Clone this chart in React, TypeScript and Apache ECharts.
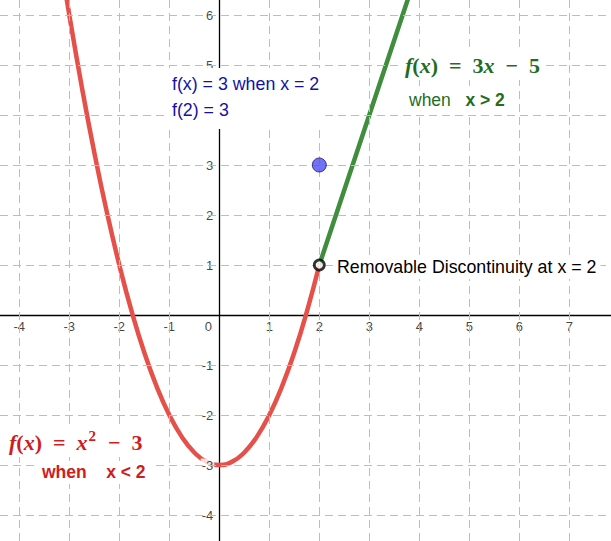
import React, { useEffect, useRef } from "react";
import * as echarts from "echarts";

// axis extents (data units)
const X_MIN = -4.386;
const X_MAX = 7.834;
const Y_MIN = -4.52;
const Y_MAX = 6.3;

// grid values
const xTicks = [-4, -3, -2, -1, 1, 2, 3, 4, 5, 6, 7];
const yTicks = [-4, -3, -2, -1, 1, 2, 3, 4, 5, 6];
// tick labels that are visible (4 on the y axis is hidden under the text box)
const xLabels = [-4, -3, -2, -1, 1, 2, 3, 4, 5, 6, 7];
const yLabels = [-4, -3, -2, -1, 1, 2, 3, 5, 6];

// f(x) = x^2 - 3 for x < 2
const parabolaX = [-3.25, -3, -2.75, -2.5, -2.25, -2, -1.75, -1.5, -1.25, -1, -0.75, -0.5, -0.25, 0, 0.25, 0.5, 0.75, 1, 1.25, 1.5, 1.75, 2];
const parabolaY = [7.5625, 6, 4.5625, 3.25, 2.0625, 1, 0.0625, -0.75, -1.4375, -2, -2.4375, -2.75, -2.9375, -3, -2.9375, -2.75, -2.4375, -2, -1.4375, -0.75, 0.0625, 1];

// f(x) = 3x - 5 for x > 2
const lineX = [2, 4];
const lineY = [1, 7];

// special points
const holePoint = [2, 1];
const definedPoint = [2, 3];

const SANS = "'Liberation Sans', Arial, sans-serif";
const SERIF = "'Liberation Serif', 'Times New Roman', serif";
const RED_TXT = "#d01c1c";
const GREEN_TXT = "#1f6e1f";
const BLUE_TXT = "#1212a8";

export default function App() {
  const ref = useRef<HTMLDivElement>(null);

  useEffect(() => {
    if (!ref.current) return;
    const chart = echarts.init(ref.current, null, { renderer: "svg" });

    const mathStyle = (color: string) => ({
      i: { fontFamily: SERIF, fontStyle: "italic", fontWeight: "bold", fontSize: 22, fill: color, color, verticalAlign: "bottom" },
      r: { fontFamily: SERIF, fontWeight: "bold", fontSize: 22, fill: color, color, verticalAlign: "bottom" },
      s: { fontFamily: SERIF, fontWeight: "bold", fontSize: 15, fill: color, color, verticalAlign: "bottom", padding: [0, 1, 10, 1] },
    });

    const tickLabel = {
      show: true,
      fontFamily: SANS,
      fontSize: 13,
      color: "#111",
      backgroundColor: "#fff",
      padding: [0, 1],
    };

    const option: any = {
      animation: false,
      backgroundColor: "#ffffff",
      grid: { left: 0, right: 0, top: 0, bottom: 0, containLabel: false },
      xAxis: {
        type: "value",
        min: X_MIN,
        max: X_MAX,
        axisLine: { show: true, onZero: true, lineStyle: { color: "#000", width: 1.3 } },
        axisTick: { show: false },
        axisLabel: { show: false },
        splitLine: { show: false },
      },
      yAxis: {
        type: "value",
        min: Y_MIN,
        max: Y_MAX,
        axisLine: { show: true, onZero: true, lineStyle: { color: "#000", width: 1.3 } },
        axisTick: { show: false },
        axisLabel: { show: false },
        splitLine: { show: false },
      },
      series: [
        {
          type: "line",
          z: 1,
          data: [[0, 0]],
          showSymbol: false,
          symbol: "none",
          lineStyle: { opacity: 0 },
          markLine: {
            silent: true,
            symbol: ["none", "none"],
            label: { show: false },
            lineStyle: { color: "#bdbdbd", width: 1, type: [8, 5] },
            data: [
              ...xTicks.map((v) => ({ xAxis: v })),
              ...yTicks.map((v) => ({ yAxis: v })),
            ],
          },
        },
        {
          type: "line",
          z: 3,
          smooth: true,
          showSymbol: false,
          symbol: "none",
          data: parabolaX.map((x, i) => [x, parabolaY[i]]),
          lineStyle: { color: "#e5504a", width: 4.5 },
        },
        {
          type: "line",
          z: 3,
          showSymbol: false,
          symbol: "none",
          data: lineX.map((x, i) => [x, lineY[i]]),
          lineStyle: { color: "#3e8e3e", width: 4.5 },
        },
        {
          type: "scatter",
          z: 4,
          symbolSize: 0,
          itemStyle: { color: "rgba(0,0,0,0)" },
          data: xLabels.map((v) => [v, 0]),
          label: {
            ...tickLabel,
            position: "bottom",
            distance: 5,
            formatter: (p: any) => String(p.value[0]),
          },
        },
        {
          type: "scatter",
          z: 4,
          symbolSize: 0,
          itemStyle: { color: "rgba(0,0,0,0)" },
          data: yLabels.map((v) => [0, v]),
          label: {
            ...tickLabel,
            position: "left",
            distance: 5,
            formatter: (p: any) => String(p.value[1]),
          },
        },
        {
          type: "scatter",
          z: 4,
          symbolSize: 0,
          itemStyle: { color: "rgba(0,0,0,0)" },
          data: [[0, 0]],
          label: {
            ...tickLabel,
            position: "bottom",
            distance: 5,
            offset: [-11, 0],
            formatter: () => "0",
          },
        },
        {
          type: "scatter",
          z: 10,
          symbol: "circle",
          symbolSize: 14,
          data: [definedPoint],
          itemStyle: { color: "#4f4ff5", borderColor: "#1a1a5a", borderWidth: 1 },
        },
        {
          type: "scatter",
          z: 10,
          symbol: "circle",
          symbolSize: 10,
          data: [holePoint],
          itemStyle: { color: "#ffffff", borderColor: "#000", borderWidth: 2.8 },
        },
      ],
      graphic: [
        {
          type: "text",
          z: 100,
          left: 167,
          top: 68,
          style: {
            text: "f(x) = 3 when x = 2\nf(2) = 3",
            fontFamily: SANS,
            fontSize: 17.8,
            lineHeight: 26,
            fill: BLUE_TXT,
            backgroundColor: "#fff",
            padding: [3, 6, 6, 5],
          },
        },
        {
          type: "text",
          z: 100,
          left: 399,
          top: 50,
          style: {
            text: "{i|f}{r|(}{i|x}{r|)  =  3}{i|x}{r|  −  5}",
            rich: mathStyle(GREEN_TXT),
            backgroundColor: "#fff",
            padding: [4, 6, 4, 6],
          },
        },
        {
          type: "text",
          z: 100,
          left: 402,
          top: 88,
          style: {
            text: "{a|when}{b|   x > 2}",
            rich: {
              a: { fontFamily: SANS, fontSize: 17.5, fill: GREEN_TXT, color: GREEN_TXT },
              b: { fontFamily: SANS, fontSize: 17.5, fontWeight: "bold", fill: GREEN_TXT, color: GREEN_TXT },
            },
            backgroundColor: "#fff",
            padding: [3, 7, 4, 7],
          },
        },
        {
          type: "text",
          z: 100,
          left: 3,
          top: 424,
          style: {
            text: "{i|f}{r|(}{i|x}{r|)  =  }{i|x}{s|2}{r|  −  3}",
            rich: mathStyle(RED_TXT),
            backgroundColor: "#fff",
            padding: [4, 6, 4, 6],
          },
        },
        {
          type: "text",
          z: 100,
          left: 35,
          top: 461,
          style: {
            text: "{a|when}{b|    x < 2}",
            rich: {
              a: { fontFamily: SANS, fontSize: 17.5, fontWeight: "bold", fill: RED_TXT, color: RED_TXT },
              b: { fontFamily: SANS, fontSize: 17.5, fontWeight: "bold", fill: RED_TXT, color: RED_TXT },
            },
            backgroundColor: "#fff",
            padding: [2, 7, 3, 7],
          },
        },
        {
          type: "text",
          z: 100,
          left: 333,
          top: 256,
          style: {
            text: "Removable Discontinuity at x = 2",
            fontFamily: SANS,
            fontSize: 17.8,
            fill: "#000",
            backgroundColor: "#fff",
            padding: [2, 4, 3, 4],
          },
        },
      ],
    };

    chart.setOption(option);
    return () => {
      chart.dispose();
    };
  }, []);

  return (
    <div
      ref={ref}
      style={{ position: "fixed", left: 0, top: 0, width: 611, height: 541, background: "#fff" }}
    />
  );
}
